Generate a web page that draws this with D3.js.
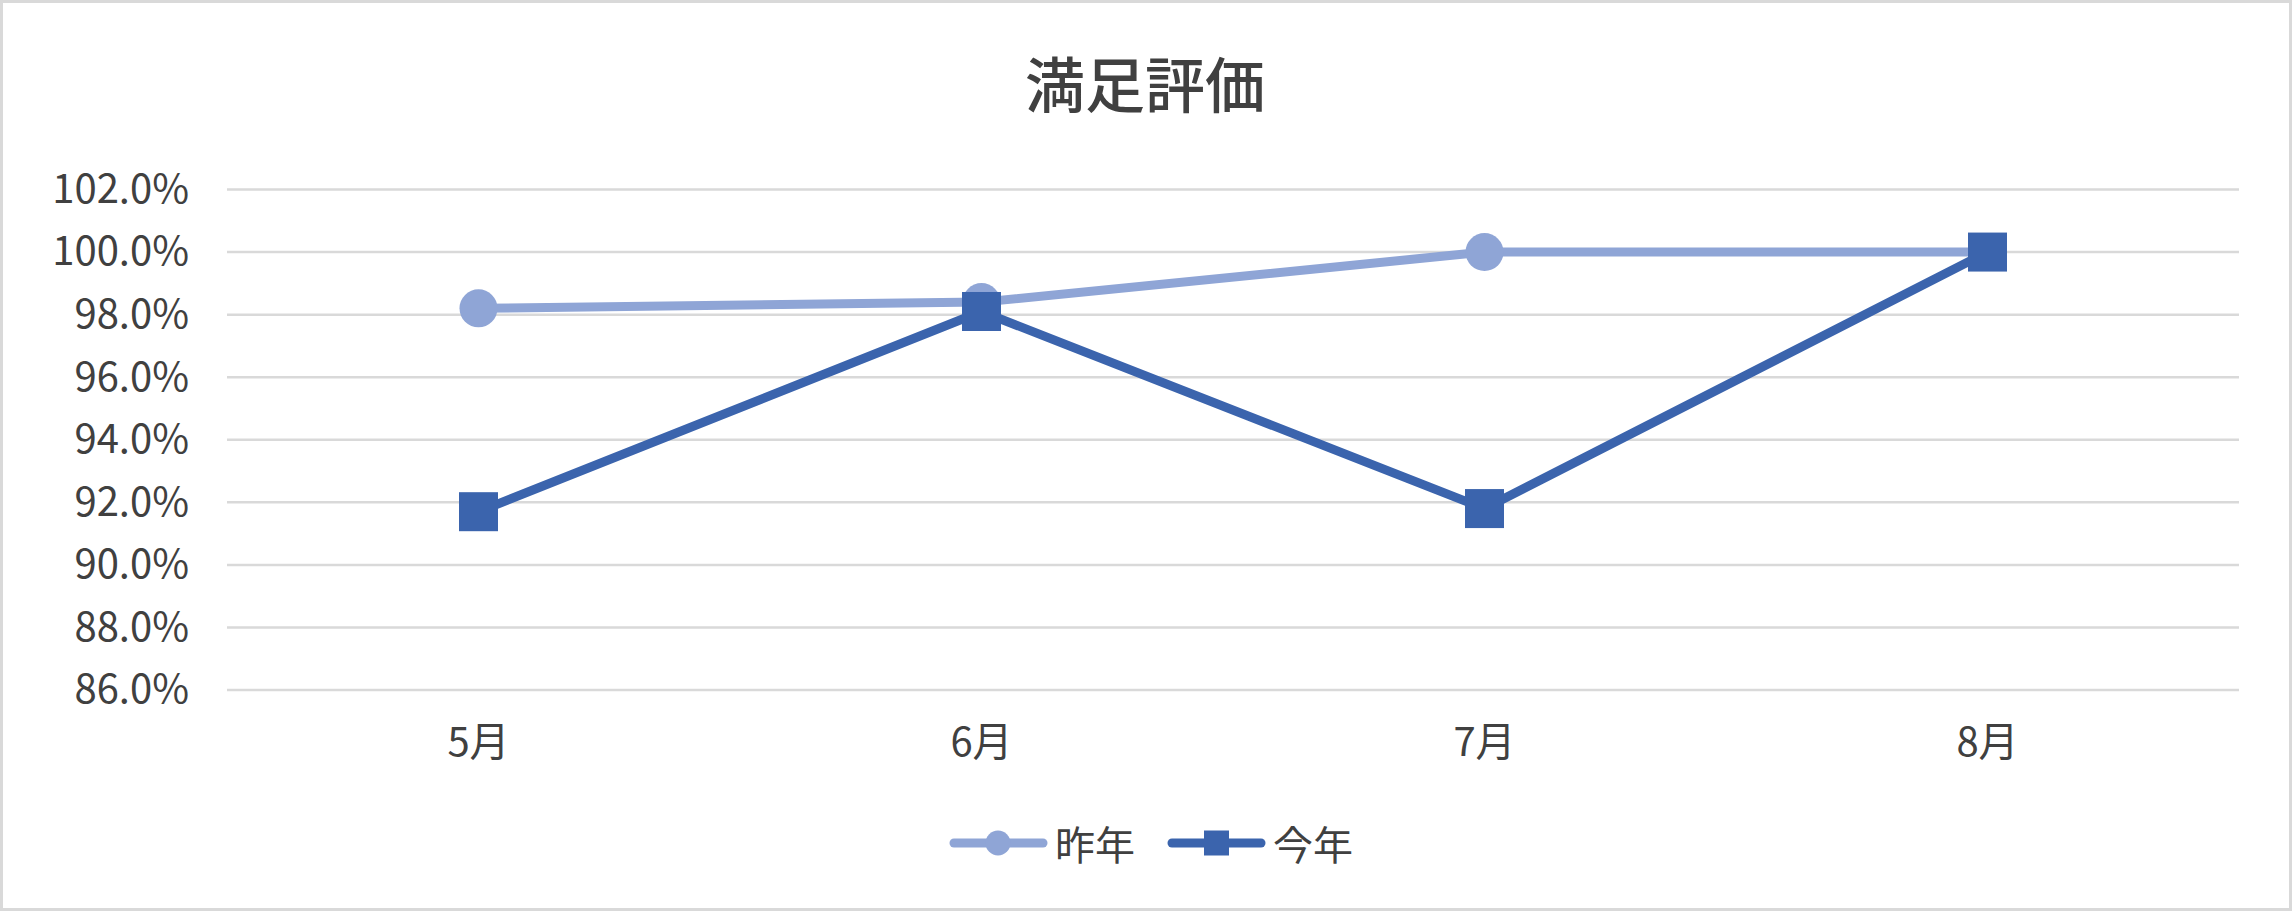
<!DOCTYPE html>
<html>
<head>
<meta charset="utf-8">
<script src="https://cdn.jsdelivr.net/npm/d3@7"></script>
<style>
  html, body { margin: 0; padding: 0; background: #fff; }
  svg { display: block; font-family: "Noto Sans CJK JP", "Noto Sans", sans-serif; }
</style>
</head>
<body>
<div id="chart"></div>
<script>
// data
var months = ["5月", "6月", "7月", "8月"];
var lastYear = [0.982, 0.984, 1.0, 1.0];   // 昨年
var thisYear = [0.917, 0.981, 0.918, 1.0]; // 今年
var yTicks = [0.86, 0.88, 0.90, 0.92, 0.94, 0.96, 0.98, 1.00, 1.02];
var seriesNames = ["昨年", "今年"];

var W = 2292, H = 911;
var textCol = "#404040";
var colors = ["#8FA5D6", "#3B64AD"];

var svg = d3.select("#chart").append("svg")
  .attr("width", W).attr("height", H);

// chart border
svg.append("rect")
  .attr("x", 1.5).attr("y", 1.5)
  .attr("width", W - 3).attr("height", H - 3)
  .attr("fill", "#fff").attr("stroke", "#d9d9d9").attr("stroke-width", 3);

// title
svg.append("text")
  .attr("x", 1145).attr("y", 81)
  .attr("text-anchor", "middle").attr("dominant-baseline", "central")
  .style("font-size", "60px").style("font-weight", "500").style("fill", textCol)
  .text("満足評価");

var x = d3.scaleBand().domain(months).range([227, 2239]);
var y = d3.scaleLinear().domain([0.86, 1.02]).range([690, 189.5]);

// gridlines
svg.append("g").selectAll("line")
  .data(yTicks).enter().append("line")
    .attr("x1", 227).attr("x2", 2239)
    .attr("y1", function (d) { return y(d); })
    .attr("y2", function (d) { return y(d); })
    .attr("stroke", "#d9d9d9").attr("stroke-width", 2.5);

// y labels
var yAxis = d3.axisLeft(y).tickValues(yTicks).tickSize(0).tickPadding(0)
  .tickFormat(d3.format(".1%"));
var gy = svg.append("g").attr("transform", "translate(189,0)").call(yAxis);
gy.select(".domain").remove();
gy.selectAll("text").style("font-size", "40px").style("fill", textCol)
  .style("font-family", "\"Noto Sans CJK JP\", sans-serif");

// x labels
var xAxis = d3.axisBottom(x).tickSize(0).tickPadding(0);
var gx = svg.append("g").attr("transform", "translate(0,728)").call(xAxis);
gx.select(".domain").remove();
gx.selectAll("text").style("font-size", "40px").style("fill", textCol)
  .style("font-family", "\"Noto Sans CJK JP\", sans-serif");

var cx = function (d, i) { return x(months[i]) + x.bandwidth() / 2; };
var line = d3.line().x(cx).y(function (d) { return y(d); });

// 昨年
svg.append("path").datum(lastYear)
  .attr("d", line).attr("fill", "none")
  .attr("stroke", colors[0]).attr("stroke-width", 9).attr("stroke-linejoin", "round");
svg.append("g").selectAll("circle").data(lastYear).enter().append("circle")
  .attr("cx", cx).attr("cy", function (d) { return y(d); })
  .attr("r", 19).attr("fill", colors[0]);

// 今年
svg.append("path").datum(thisYear)
  .attr("d", line).attr("fill", "none")
  .attr("stroke", colors[1]).attr("stroke-width", 9).attr("stroke-linejoin", "round");
svg.append("g").selectAll("rect").data(thisYear).enter().append("rect")
  .attr("x", function (d, i) { return cx(d, i) - 19.5; })
  .attr("y", function (d) { return y(d) - 19.5; })
  .attr("width", 39).attr("height", 39).attr("fill", colors[1]);

// legend
var legX = [950, 1168];
var lg = svg.append("g");
seriesNames.forEach(function (name, i) {
  var g = lg.append("g").attr("transform", "translate(" + legX[i] + ",843)");
  g.append("line").attr("x1", 4).attr("x2", 93).attr("y1", 0).attr("y2", 0)
    .attr("stroke", colors[i]).attr("stroke-width", 9).attr("stroke-linecap", "round");
  if (i == 0) {
    g.append("circle").attr("cx", 48).attr("cy", 0).attr("r", 12.5).attr("fill", colors[i]);
  } else {
    g.append("rect").attr("x", 36).attr("y", -12.5).attr("width", 25).attr("height", 25)
      .attr("fill", colors[i]);
  }
  g.append("text").attr("x", 105).attr("y", 0)
    .attr("dominant-baseline", "central")
    .style("font-size", "40px").style("fill", textCol)
    .text(name);
});
</script>
</body>
</html>
